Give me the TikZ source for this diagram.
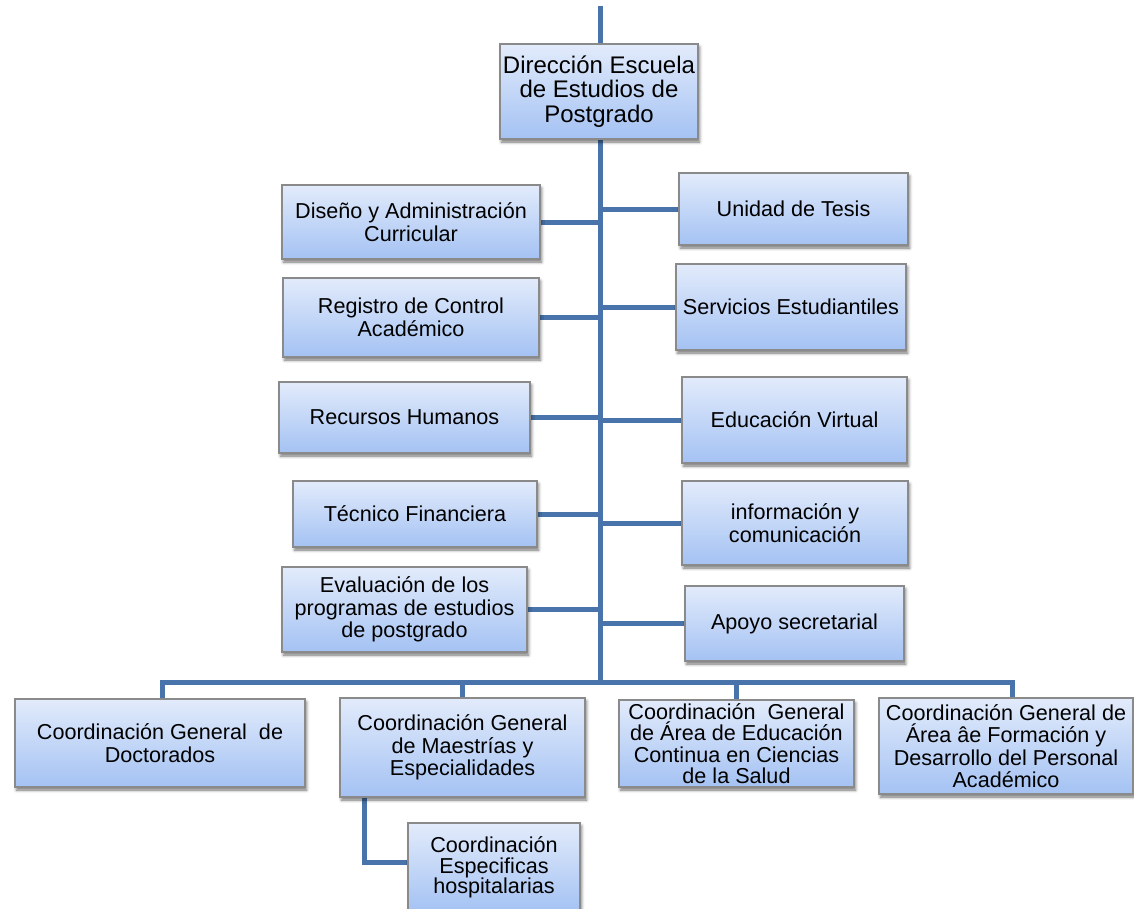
\documentclass[tikz,border=0pt]{standalone}
\usepackage{fontspec}
\setmainfont{Liberation Sans}
\usetikzlibrary{shadows.blur,backgrounds}

\definecolor{linkblue}{HTML}{4874AB}
\definecolor{boxtop}{HTML}{E2EBFB}
\definecolor{boxbottom}{HTML}{A4C2F3}
\definecolor{boxedge}{HTML}{8A8A8A}

\tikzset{
  unit/.style={draw=boxedge, line width=1.1pt, top color=boxtop, bottom color=boxbottom,
    inner sep=0pt, align=center, font=\fontsize{21.6}{22.5}\selectfont,
    blur shadow={shadow xshift=1.5pt, shadow yshift=-3pt, shadow blur radius=3pt, shadow opacity=55}},
  head/.style={unit, font=\fontsize{24}{24.5}\selectfont},
  link/.style={draw=linkblue, line width=5pt, line cap=rect, line join=miter},
}

\begin{document}
\begin{tikzpicture}[x=1pt,y=-1pt]
\useasboundingbox (0,0) rectangle (1134,908);

% director
\node[head, minimum width=198, minimum height=95] (dir) at (599,91.5)
  {Dirección Escuela\\de Estudios de\\Postgrado};

% staff units on the left
\node[unit, minimum width=258, minimum height=74] (l1) at (411,222)
  {Diseño y Administración\\Curricular};
\node[unit, minimum width=256, minimum height=79] (l2) at (411,317.5)
  {Registro de Control\\Académico};
\node[unit, minimum width=251, minimum height=71] (l3) at (404.5,417.5)
  {Recursos Humanos};
\node[unit, minimum width=244, minimum height=66] (l4) at (415,514)
  {Técnico Financiera};
\node[unit, minimum width=245, minimum height=85] (l5) at (404.5,609.5)
  {Evaluación de los\\programas de estudios\\de postgrado};

% staff units on the right
\node[unit, minimum width=229, minimum height=72] (r1) at (793.5,209)
  {Unidad de Tesis};
\node[unit, minimum width=230, minimum height=86] (r2) at (791,307)
  {Servicios Estudiantiles};
\node[unit, minimum width=225, minimum height=86] (r3) at (794.5,420)
  {Educación Virtual};
\node[unit, minimum width=226, minimum height=84] (r4) at (795,523)
  {información y\\comunicación};
\node[unit, minimum width=219, minimum height=75] (r5) at (794.5,623.5)
  {Apoyo secretarial};

% general coordinations
\node[unit, minimum width=290, minimum height=88] (b1) at (160,743)
  {Coordinación General\ \ de\\Doctorados};
\node[unit, minimum width=245, minimum height=99] (b2) at (462.5,747.5)
  {Coordinación General\\de Maestrías y\\Especialidades};
\node[unit, minimum width=235, minimum height=87, font=\fontsize{21.6}{21.5}\selectfont] (b3) at (736.5,743.5)
  {Coordinación\ \ General\\de Área de Educación\\Continua en Ciencias\\de la Salud};
\node[unit, minimum width=254, minimum height=96] (b4) at (1006,746)
  {Coordinación General de\\Área âe Formación y\\Desarrollo del Personal\\Académico};

% sub-coordination
\node[unit, minimum width=172, minimum height=89, font=\fontsize{21.6}{20.5}\selectfont] (s1) at (494,867.5)
  {Coordinación\\Especificas\\hospitalarias};

% connectors
\coordinate (top) at (600,8);
\coordinate (base) at (600,682);
\coordinate (j1) at (162,682);
\coordinate (j4) at (1012,682);
\coordinate (k) at (364,862);

\begin{scope}[on background layer]
  \draw[link] (top) -- (base);
  \foreach \n in {l1,l2,l3,l4,l5} \draw[link] (\n.east) -- (\n.east -| base);
  \foreach \n in {r1,r2,r3,r4,r5} \draw[link] (\n.west -| base) -- (\n.west);
  \draw[link] (b1.north -| j1) -- (j1) -- (j4) -- (b4.north -| j4);
  \draw[link] (b2.north) -- (b2.north |- j1);
  \draw[link] (b3.north) -- (b3.north |- j1);
  \draw[link] (b2.south -| k) -- (k) -- (s1.west |- k);
\end{scope}
\end{tikzpicture}
\end{document}
